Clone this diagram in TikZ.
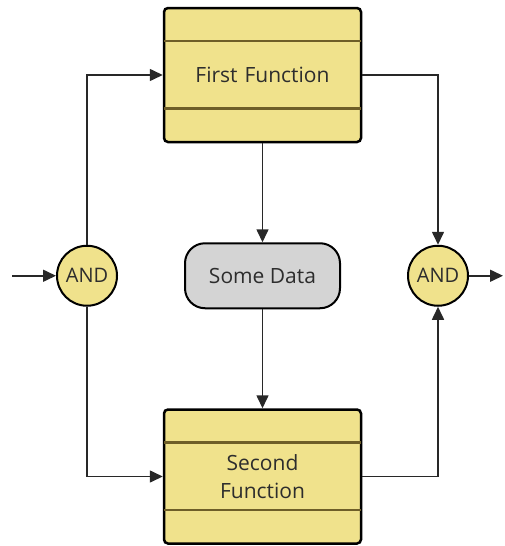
\documentclass[tikz,border=0pt]{standalone}
\usepackage{fontspec}
\setmainfont{Open Sans}
\usepackage{xcolor}
\usetikzlibrary{arrows.meta,positioning,calc}

\definecolor{funcfill}{RGB}{240,226,140}
\definecolor{divline}{RGB}{110,94,40}
\definecolor{datafill}{RGB}{212,212,212}
\definecolor{txtgray}{RGB}{45,45,45}
\definecolor{wire}{RGB}{40,40,40}

\begin{document}
\begin{tikzpicture}[
    x=1pt, y=1pt,
    node distance=99pt and 66pt,
    func/.style={rectangle, draw=black, line width=2.5pt, rounded corners=4pt, fill=funcfill, minimum width=197pt, minimum height=134pt, align=center, text width=160pt, font=\fontsize{21}{28}\selectfont, text=txtgray},
    datum/.style={rectangle, draw=black, line width=2pt, rounded corners=20pt, fill=datafill, minimum width=155pt, minimum height=65pt, align=center, font=\fontsize{21}{28}\selectfont, text=txtgray},
    gate/.style={circle, draw=black, line width=2pt, fill=funcfill, minimum size=60pt, inner sep=0pt, font=\fontsize{20}{24}\selectfont, text=txtgray},
    divider/.style={divline, line width=2.5pt},
    arrow/.style={-{Triangle[length=13pt, width=12pt]}, wire, line width=1.6pt},
]
\useasboundingbox (0,0) rectangle (504,-546);

% Functions and data
\node[func] (first) at (262.5,-75) {First Function};
\node[datum, below=99pt of first] (data) {Some Data};
\node[func, below=99pt of data] (second) {Second\\Function};

% Gates
\node[gate, left=of data] (andin) {AND};
\node[gate, right=of data] (andout) {AND};
\coordinate[left=44pt of andin] (start);
\coordinate[right=34pt of andout] (finish);

% Divider lines
\foreach \f in {first, second} {
    \draw[divider] ([shift={(1pt,-34pt)}]\f.north west) -- ([shift={(-1pt,-34pt)}]\f.north east);
    \draw[divider] ([shift={(1pt,35pt)}]\f.south west) -- ([shift={(-1pt,35pt)}]\f.south east);
}

% Arrows
\draw[arrow] (start) -- (andin);
\draw[arrow] (andin.north) |- (first.west);
\draw[arrow] (andin.south) |- (second.west);
\draw[arrow] (first) -- (data);
\draw[arrow] (data) -- (second);
\draw[arrow] (first.east) -| (andout.north);
\draw[arrow] (second.east) -| (andout.south);
\draw[arrow] (andout) -- (finish);

\end{tikzpicture}
\end{document}
